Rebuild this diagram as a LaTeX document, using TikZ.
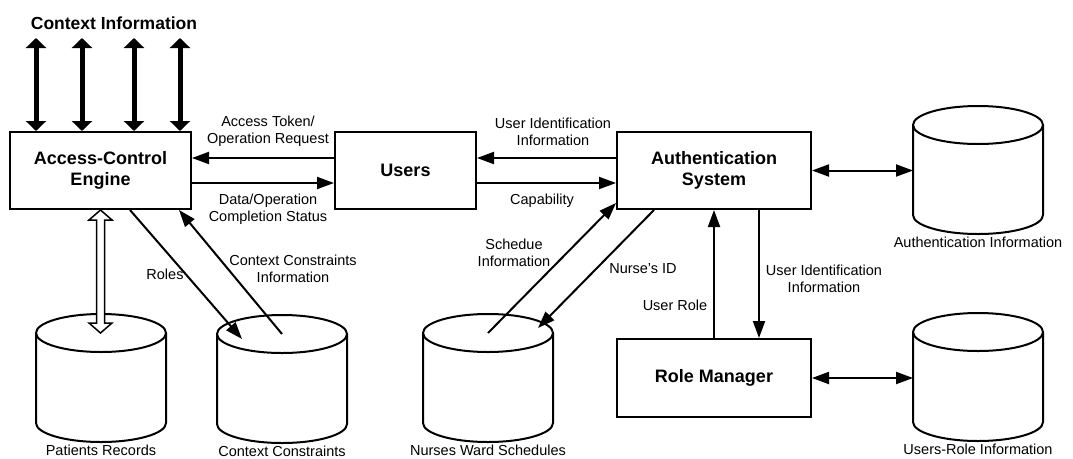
\documentclass[tikz,border=0pt]{standalone}
\usepackage{fontspec}
\setmainfont{Liberation Sans}
\usetikzlibrary{arrows.meta, calc}

\tikzset{
  block/.style = {draw, line width=2pt, minimum width=181pt, minimum height=77pt, inner sep=0pt, align=center, font=\fontsize{18}{21}\selectfont\bfseries},
  flow/.style = {line width=2pt, -{Triangle[width=12pt, length=17pt]}},
  both/.style = {line width=2pt, {Triangle[width=12pt, length=17pt]}-{Triangle[width=12pt, length=17pt]}},
  ctx/.style = {line width=5pt, {Triangle[width=20pt, length=10pt]}-{Triangle[width=20pt, length=10pt]}},
  lbl/.style = {align=center, inner sep=0pt, font=\fontsize{14.5}{17}\selectfont},
  cyl/.style = {line width=2pt},
}

% data store: name, centre x, y of the top ellipse centre, caption
\newcommand{\datastore}[4]{%
  \draw[cyl] (#2-65, #3) -- (#2-65, #3+90) arc[start angle=180, end angle=360, x radius=65pt, y radius=19pt] -- (#2+65, #3);
  \draw[cyl] (#2, #3) ellipse[x radius=65pt, y radius=19pt];
  \coordinate (#1 top) at (#2, #3);
  \coordinate (#1 west) at (#2-65, #3+45);
  \node[lbl] (#1) at (#2, #3+117) {#4};
}

\begin{document}
\begin{tikzpicture}[x=1pt, y=-1pt]

\useasboundingbox (0, 0) rectangle (1073, 458);

\node[block] (ace) at (100.5, 170.5) {Access-Control\\Engine};
\node[block, minimum width=141pt] (users) at (405.5, 170.5) {Users};
\node[block, minimum width=194pt] (auth) at (714, 170.5) {Authentication\\System};
\node[block, minimum width=194pt, minimum height=78pt] (rm) at (714, 378) {Role Manager};

\datastore{pr}{101}{333}{Patients Records}
\datastore{cc}{282}{334}{Context Constraints}
\datastore{nws}{488}{333}{Nurses Ward Schedules}
\datastore{authdb}{978}{125}{Authentication Information}
\datastore{urdb}{978}{332}{Users-Role Information}

% context information
\node[font=\fontsize{17.5}{20}\selectfont\bfseries, inner sep=0pt] (ctxinfo) at (114, 23) {Context Information};
\foreach \cx [count=\i] in {36, 82, 134, 180} {
  \coordinate (ctx\i) at (\cx, 38);
  \draw[ctx] (ctx\i) -- (ctx\i |- ace.north);
}

% engine and users
\draw[flow] ([yshift=12.5pt]users.west) -- ([yshift=12.5pt]ace.east);
\draw[flow] ([yshift=-12.5pt]ace.east) -- ([yshift=-12.5pt]users.west);
\node[lbl] (tokenlbl) at (268, 131.5) {Access Token/\\Operation Request};
\node[lbl] (datalbl) at (268, 209.5) {Data/Operation\\Completion Status};

% users and authentication
\draw[flow] ([yshift=12.5pt]auth.west) -- ([yshift=12.5pt]users.east);
\draw[flow] ([yshift=-12.5pt]users.east) -- ([yshift=-12.5pt]auth.west);
\node[lbl] (uidlbl) at (553, 131.5) {User Identification\\Information};
\node[lbl] (caplbl) at (542, 201) {Capability};

\draw[both] (auth.east) -- (auth.east -| authdb west);
\draw[both] (rm.east) -- (rm.east -| urdb west);

% authentication and role manager
\draw[flow] (rm.north) -- (auth.south);
\draw[flow] ([xshift=45pt]auth.south) -- ([xshift=45pt]rm.north);
\node[lbl] (rolelbl) at (675, 305) {User Role};
\node[lbl] (uid2lbl) at (824, 279) {User Identification\\Information};

% engine and its stores
\draw[line width=1.5pt, fill=white] (ace.south) -- ++(11.5, 10) -- ++(-7.5, 0) -- ($(ace.south |- pr top)+(4, -10)$) -- ++(7.5, 0) -- (ace.south |- pr top) -- ++(-11.5, -10) -- ++(7.5, 0) -- ($(ace.south)+(-4, 10)$) -- ++(-7.5, 0) -- cycle;
\draw[flow] ([xshift=29.5pt]ace.south) -- ([xshift=-40pt, yshift=-5pt]cc top);
\draw[flow] (cc top) -- ([xshift=-13pt]ace.south east);
\node[lbl] (roleslbl) at (165, 274) {Roles};
\node[lbl] (cclbl) at (293, 269) {Context Constraints\\Information};

% schedules
\draw[flow] (nws top) -- ([yshift=7pt]auth.south west);
\draw[flow] ([xshift=38pt]auth.south west) -- ([xshift=50pt, yshift=5pt]nws top);
\node[lbl] (schedlbl) at (514, 253) {Schedue\\Information};
\node[lbl] (nidlbl) at (643, 269) {Nurse\symbol{39}s ID};

\end{tikzpicture}
\end{document}
